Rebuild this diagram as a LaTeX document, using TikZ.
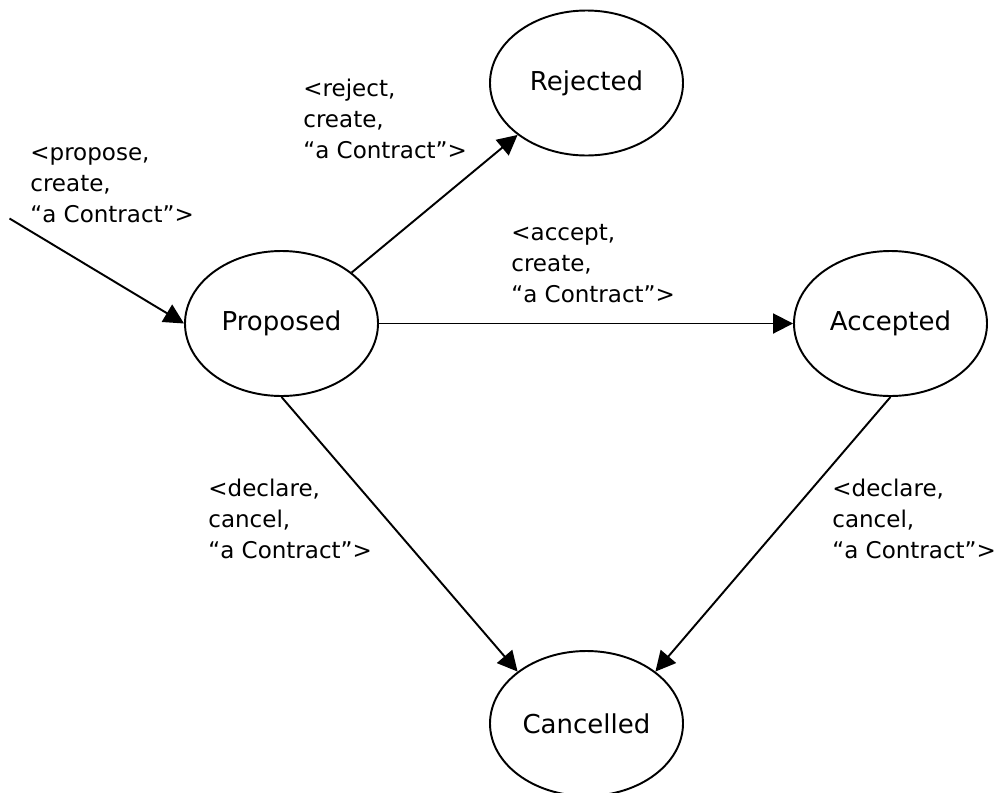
\documentclass[tikz,border=0pt]{standalone}
\usepackage{fontspec}
\setmainfont{DejaVu Sans}
\usetikzlibrary{shapes.geometric}
\usetikzlibrary{arrows.meta}

\begin{document}
\begin{tikzpicture}[
	state/.style={ellipse,draw,line width=1.1pt,minimum width=3.86cm,minimum height=2.9cm,inner sep=0pt,font=\fontsize{14.8}{17}\selectfont},
	lbl/.style={anchor=base west,align=left,inner sep=0pt,font=\fontsize{13.1}{17.6}\selectfont},
	trans/.style={line width=1.1pt,-{Triangle[length=4mm,width=4mm]}}
]
	\useasboundingbox (0,0) rectangle (20,-15.84);
	\node[state] (proposed) at (5.63,-6.47) {Proposed};
	\node[state] (rejected) at (11.73,-1.66) {Rejected};
	\node[state] (accepted) at (17.81,-6.47) {Accepted};
	\node[state] (cancelled) at (11.73,-14.47) {Cancelled};
	\coordinate (start) at (0.19,-4.37);
	\draw[trans] (start) -- (proposed.west);
	\draw[trans] (proposed.36) -- (rejected.217);
	\draw[trans] (proposed) -- (accepted);
	\draw[trans] (proposed.south) -- (cancelled.143);
	\draw[trans] (accepted.south) -- (cancelled.37);
	\node[lbl] (lpropose) at (0.60,-4.44) {<propose,\\create,\\“a Contract”>};
	\node[lbl] (lreject) at (6.06,-3.16) {<reject,\\create,\\“a Contract”>};
	\node[lbl] (laccept) at (10.22,-6.04) {<accept,\\create,\\“a Contract”>};
	\node[lbl] (ldeclarep) at (4.16,-11.16) {<declare,\\cancel,\\“a Contract”>};
	\node[lbl] (ldeclarea) at (16.64,-11.16) {<declare,\\cancel,\\“a Contract”>};
\end{tikzpicture}
\end{document}
